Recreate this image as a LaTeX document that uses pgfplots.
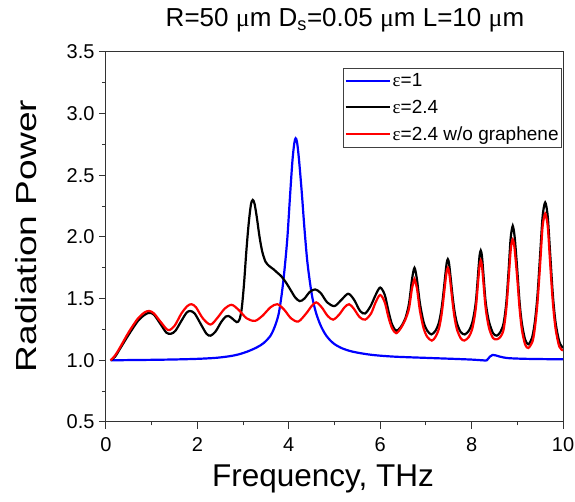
\documentclass[border=0pt]{standalone}
\usepackage{fontspec}
\setmainfont{Liberation Sans}
\newfontfamily\gr{Liberation Serif}
\usepackage{pgfplots}
\pgfplotsset{compat=1.18}
\pgfplotstableread{
x y
0.1 1.000
0.5 1.002
1.0 1.004
1.5 1.007
2.0 1.012
2.4 1.02
2.7 1.033
2.9 1.048
3.1 1.072
3.3 1.105
3.45 1.14
3.6 1.20
3.70 1.28
3.78 1.38
3.85 1.55
3.91 1.75
3.97 2.00
4.03 2.35
4.08 2.62
4.12 2.76
4.15 2.80
4.18 2.77
4.22 2.64
4.28 2.38
4.34 2.08
4.40 1.82
4.46 1.64
4.52 1.50
4.60 1.38
4.70 1.28
4.82 1.20
4.97 1.14
5.15 1.10
5.4 1.07
5.8 1.045
6.3 1.03
7.0 1.02
7.6 1.012
8.0 1.006
8.25 1.0
8.33 1.0
8.40 1.03
8.46 1.044
8.53 1.04
8.62 1.03
8.8 1.018
9.2 1.012
10 1.008
}\blue
\pgfplotstableread{
x y
0.1 1.0
0.2 1.03
0.3 1.09
0.5 1.21
0.7 1.32
0.85 1.37
0.95 1.385
1.05 1.37
1.2 1.29
1.32 1.225
1.42 1.215
1.52 1.24
1.65 1.32
1.76 1.385
1.84 1.40
1.94 1.38
2.08 1.29
2.2 1.215
2.29 1.20
2.4 1.235
2.52 1.31
2.62 1.355
2.68 1.36
2.76 1.34
2.86 1.31
2.92 1.33
2.97 1.42
3.02 1.62
3.07 1.88
3.12 2.10
3.17 2.26
3.21 2.30
3.25 2.27
3.30 2.16
3.36 2.00
3.42 1.88
3.49 1.80
3.57 1.765
3.66 1.74
3.75 1.71
3.84 1.68
3.94 1.63
4.04 1.57
4.14 1.51
4.24 1.48
4.34 1.50
4.46 1.555
4.58 1.575
4.70 1.545
4.84 1.47
5.0 1.44
5.15 1.49
5.30 1.54
5.43 1.49
5.56 1.40
5.67 1.38
5.79 1.44
5.90 1.53
6.0 1.59
6.1 1.53
6.18 1.40
6.26 1.29
6.35 1.24
6.45 1.27
6.55 1.34
6.63 1.46
6.69 1.64
6.725 1.72
6.75 1.75
6.775 1.72
6.81 1.64
6.87 1.46
6.95 1.31
7.03 1.24
7.12 1.21
7.21 1.24
7.28 1.30
7.33 1.39
7.37 1.50
7.43 1.71
7.455 1.79
7.48 1.82
7.505 1.79
7.53 1.71
7.59 1.50
7.63 1.39
7.68 1.30
7.76 1.23
7.85 1.21
7.94 1.24
8.01 1.30
8.06 1.39
8.10 1.50
8.15 1.74
8.175 1.85
8.20 1.89
8.225 1.85
8.25 1.74
8.30 1.50
8.34 1.39
8.39 1.30
8.47 1.22
8.55 1.20
8.63 1.23
8.70 1.30
8.76 1.47
8.81 1.73
8.85 1.97
8.875 2.05
8.90 2.09
8.925 2.05
8.95 1.97
9.00 1.73
9.05 1.47
9.10 1.30
9.17 1.17
9.24 1.13
9.32 1.18
9.38 1.30
9.44 1.52
9.50 1.86
9.55 2.15
9.585 2.25
9.61 2.28
9.635 2.25
9.67 2.15
9.72 1.86
9.78 1.52
9.84 1.30
9.92 1.15
10.0 1.10
}\black
\pgfplotstableread{
x y
0.1 1.0
0.2 1.04
0.3 1.10
0.5 1.23
0.7 1.34
0.85 1.39
0.95 1.40
1.05 1.38
1.2 1.31
1.36 1.245
1.5 1.28
1.65 1.38
1.78 1.44
1.87 1.455
1.97 1.43
2.12 1.34
2.29 1.29
2.45 1.35
2.6 1.42
2.75 1.45
2.9 1.41
3.08 1.34
3.26 1.32
3.42 1.36
3.6 1.43
3.75 1.455
3.9 1.41
4.05 1.34
4.21 1.315
4.38 1.38
4.5 1.44
4.60 1.47
4.72 1.43
4.85 1.36
4.97 1.33
5.1 1.37
5.22 1.43
5.32 1.455
5.42 1.42
5.55 1.35
5.67 1.33
5.80 1.38
5.90 1.47
6.0 1.53
6.1 1.47
6.18 1.35
6.26 1.26
6.35 1.22
6.45 1.26
6.55 1.33
6.63 1.42
6.69 1.57
6.725 1.63
6.75 1.66
6.775 1.63
6.81 1.57
6.87 1.40
6.95 1.26
7.03 1.19
7.13 1.16
7.21 1.19
7.28 1.25
7.33 1.34
7.37 1.45
7.43 1.65
7.455 1.72
7.48 1.75
7.505 1.72
7.53 1.65
7.59 1.45
7.63 1.34
7.68 1.25
7.76 1.18
7.84 1.16
7.94 1.19
8.01 1.25
8.06 1.34
8.10 1.45
8.15 1.67
8.175 1.77
8.20 1.81
8.225 1.77
8.25 1.67
8.30 1.45
8.34 1.34
8.39 1.25
8.47 1.18
8.55 1.17
8.63 1.19
8.70 1.25
8.76 1.42
8.81 1.66
8.85 1.87
8.875 1.95
8.90 1.98
8.925 1.95
8.95 1.87
9.00 1.66
9.05 1.42
9.10 1.25
9.17 1.13
9.24 1.10
9.33 1.15
9.38 1.25
9.44 1.46
9.50 1.78
9.55 2.07
9.585 2.16
9.61 2.19
9.635 2.16
9.67 2.07
9.72 1.78
9.78 1.46
9.84 1.25
9.92 1.11
10 1.08
}\red
\begin{document}
\begin{tikzpicture}
\path[use as bounding box] (-106pt,-80pt) rectangle (469pt,422pt);
\begin{axis}[
  at={(0pt,0pt)}, anchor=south west,
  width=457pt, height=370pt, scale only axis,
  xmin=0, xmax=10, ymin=0.5, ymax=3.5,
  xtick={0,2,4,6,8,10}, minor x tick num=1,
  ytick={0.5,1,1.5,2,2.5,3,3.5}, minor y tick num=1,
  yticklabel style={/tikz/xshift=-1pt, /pgf/number format/.cd, fixed, fixed zerofill, precision=1},
  xticklabel style={yshift=-5pt},
  /pgf/number format/assume math mode=true,
  axis line style={black!80, line width=1pt},
  every tick/.style={black!80, line width=1pt},
  tick align=outside,
  xtick pos=bottom, ytick pos=left,
  major tick length=7pt, minor tick length=3.5pt,
  tick label style={font=\fontsize{20}{23}\selectfont},
  legend cell align=left,
  legend style={at={(1,1)}, anchor=north east, xshift=-1pt, yshift=-16pt,
    draw=black!75, line width=0.8pt, font=\fontsize{19}{22}\selectfont,
    inner xsep=1pt, inner ysep=3pt, row sep=8pt,
    /tikz/every even column/.append style={column sep=0pt}},
  legend image code/.code={\draw[#1, line width=2pt] (-2pt,0pt) -- (42pt,0pt);},
  every axis plot/.append style={line width=2.2pt, smooth, tension=0.5},
]
\addplot[blue] table {\blue};
\addlegendentry{{\gr ε}=1}
\addplot[black] table {\black};
\addlegendentry{{\gr ε}=2.4}
\addplot[red] table {\red};
\addlegendentry{{\gr ε}=2.4 w/o graphene}
\end{axis}
\node[anchor=base, font=\fontsize{26}{30}\selectfont] at (239pt,395pt)
  {R=50 {\gr μ}m D\textsubscript{s}=0.05 {\gr μ}m L=10 {\gr μ}m};
\node[anchor=base, font=\fontsize{31.5}{35}\selectfont] at (217pt,-65pt) {Frequency, THz};
\node[anchor=base, rotate=90, font=\fontsize{29}{33}\selectfont] at (-69pt,186pt) {\scalebox{1.28}[1]{Radiation Power}};
\end{tikzpicture}
\end{document}
